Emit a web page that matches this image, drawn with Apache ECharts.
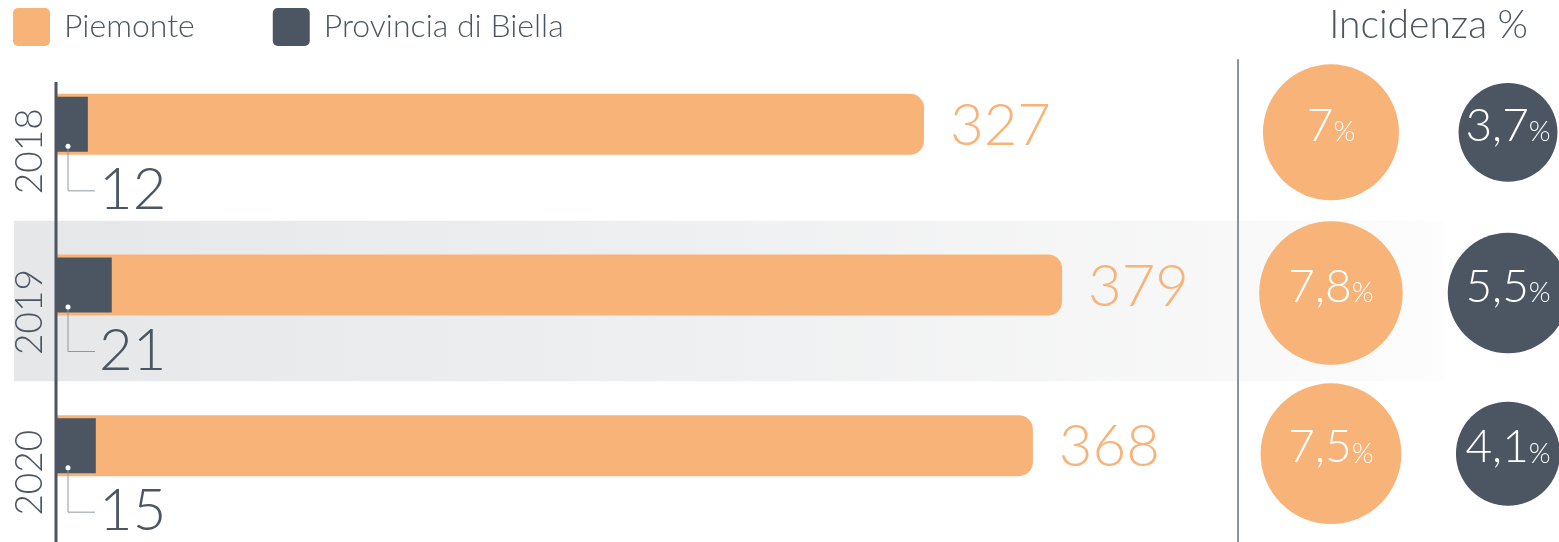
<!DOCTYPE html>
<html>
<head>
<meta charset="utf-8">
<script src="https://cdn.jsdelivr.net/npm/echarts@6/dist/echarts.min.js"></script>
<style>
  html, body { margin: 0; padding: 0; background: #fff; }
  #chart { width: 1559px; height: 542px; }
</style>
</head>
<body>
<div id="chart"></div>
<script>
// dati
const years = ['2018', '2019', '2020'];
const piemonte = [327, 379, 368];
const biella = [12, 21, 15];
const incPiemonte = [7, 7.8, 7.5];
const incBiella = [3.7, 5.5, 4.1];
const shadedYears = ['2019'];

const ORANGE = '#f8b378';
const DARK = '#4b5662';
const FONT = 'Lato';

const chart = echarts.init(document.getElementById('chart'));

// formato italiano con la virgola
function pct(v) {
  return String(v).replace('.', ',');
}

const BAR_SHIFT = -16; // barre spostate in alto nella fascia

// quadratino della legenda con angoli poco arrotondati
const LEGEND_ICON = 'path://M5,0 H32 A5,5 0 0 1 37,5 V33 A5,5 0 0 1 32,38 H5 A5,5 0 0 1 0,33 V5 A5,5 0 0 1 5,0 Z';

const option = {
  animation: false,
  title: {
    text: 'Incidenza %',
    right: 26,
    top: 1,
    textStyle: { fontFamily: FONT, fontSize: 39, fontWeight: 300, color: DARK }
  },
  legend: {
    left: 8,
    top: 3,
    icon: LEGEND_ICON,
    itemWidth: 37,
    itemHeight: 38,
    itemGap: 78,
    data: ['Piemonte', 'Provincia di Biella'],
    textStyle: { fontFamily: FONT, fontSize: 32, fontWeight: 300, color: DARK, padding: [0, 0, 0, 9] }
  },
  grid: [
    { left: 56, right: 335, top: 60, bottom: 0 },
    { left: 1238, right: 0, top: 60, bottom: 0 }
  ],
  xAxis: [
    { gridIndex: 0, type: 'value', min: 0, max: 440, show: false },
    { gridIndex: 1, type: 'value', min: -0.525, max: 1.288, show: false }
  ],
  yAxis: [
    {
      gridIndex: 0, type: 'category', data: years, inverse: true,
      axisLine: { show: false },
      axisTick: { show: false },
      axisLabel: {
        rotate: 90, margin: 7,
        fontFamily: FONT, fontWeight: 300, fontSize: 37, color: DARK,
        padding: [0, 22, 0, 0]
      }
    },
    {
      gridIndex: 1, type: 'category', data: years, inverse: true, z: 10,
      axisLine: { show: true, onZero: false, lineStyle: { color: '#8a949d', width: 2 } },
      axisTick: { show: false },
      axisLabel: { show: false }
    }
  ],
  graphic: [
    {
      type: 'line', z: 100,
      shape: { x1: 56, y1: 82, x2: 56, y2: 542 },
      style: { stroke: DARK, lineWidth: 3 }
    }
  ],
  series: [
    {
      // fascia grigia della riga evidenziata
      type: 'custom',
      z: 0,
      silent: true,
      xAxisIndex: 0, yAxisIndex: 0,
      data: shadedYears.map(y => [0, y]),
      encode: { x: 0, y: 1 },
      renderItem: function (params, api) {
        const c = api.coord([0, api.value(1)]);
        const h = api.size([0, 1])[1];
        return {
          type: 'rect',
          shape: { x: 14, y: c[1] - h / 2, width: 1430, height: h },
          style: {
            fill: new echarts.graphic.LinearGradient(0, 0, 1, 0, [
              { offset: 0, color: '#e6e7e9' },
              { offset: 0.5, color: '#eff0f1' },
              { offset: 0.85, color: '#f8f8f8' },
              { offset: 1, color: '#fdfdfd' }
            ])
          }
        };
      }
    },
    {
      name: 'Piemonte',
      type: 'custom',
      z: 3,
      xAxisIndex: 0, yAxisIndex: 0,
      itemStyle: { color: ORANGE },
      data: years.map((y, i) => [piemonte[i], y]),
      encode: { x: 0, y: 1 },
      renderItem: function (params, api) {
        const cat = api.value(1);
        const start = api.coord([0, cat]);
        const end = api.coord([api.value(0), cat]);
        const yc = start[1] + BAR_SHIFT;
        return {
          type: 'group',
          children: [
            {
              type: 'rect',
              shape: { x: start[0] - 1, y: yc - 30.5, width: end[0] - start[0] + 1, height: 61, r: [0, 14, 14, 0] },
              style: { fill: ORANGE }
            },
            {
              type: 'text',
              x: end[0] + 26, y: yc + 2,
              style: {
                text: String(api.value(0)),
                fill: ORANGE,
                font: '300 58px ' + FONT,
                align: 'left', verticalAlign: 'middle'
              }
            }
          ]
        };
      }
    },
    {
      name: 'Provincia di Biella',
      type: 'custom',
      z: 4,
      xAxisIndex: 0, yAxisIndex: 0,
      itemStyle: { color: DARK },
      data: years.map((y, i) => [biella[i], y]),
      encode: { x: 0, y: 1 },
      renderItem: function (params, api) {
        const cat = api.value(1);
        const start = api.coord([0, cat]);
        const end = api.coord([api.value(0), cat]);
        const yc = start[1] + BAR_SHIFT;
        const x0 = start[0];
        return {
          type: 'group',
          children: [
            {
              type: 'rect',
              shape: { x: x0 + 1, y: yc - 27.5, width: end[0] - x0 - 1, height: 55 },
              style: { fill: DARK }
            },
            {
              type: 'polyline',
              shape: { points: [[x0 + 12, yc + 22], [x0 + 12, yc + 66.5], [x0 + 39, yc + 66.5]] },
              style: { stroke: '#8f98a0', lineWidth: 1, fill: null }
            },
            {
              type: 'circle',
              shape: { cx: x0 + 12, cy: yc + 22, r: 2.5 },
              style: { fill: '#ffffff' }
            },
            {
              type: 'text',
              x: x0 + 43, y: yc + 66,
              style: {
                text: String(api.value(0)),
                fill: DARK,
                font: '300 58px ' + FONT,
                align: 'left', verticalAlign: 'middle'
              }
            }
          ]
        };
      }
    },
    {
      name: 'Piemonte',
      type: 'scatter',
      xAxisIndex: 1, yAxisIndex: 1,
      symbol: 'circle',
      symbolOffset: [0, -8],
      symbolSize: d => 51.4 * Math.sqrt(d[2]),
      itemStyle: { color: ORANGE, opacity: 1 },
      data: years.map((y, i) => [0, y, incPiemonte[i]]),
      label: {
        show: true, position: 'inside', offset: [0, -6],
        formatter: p => '{a|' + pct(p.value[2]) + '}{b|%}',
        rich: {
          a: { fontFamily: FONT, fontWeight: 300, fontSize: 46, color: '#fff' },
          b: { fontFamily: FONT, fontWeight: 300, fontSize: 28, color: '#fff', padding: [12, 0, 0, 0] }
        }
      }
    },
    {
      name: 'Provincia di Biella',
      type: 'scatter',
      xAxisIndex: 1, yAxisIndex: 1,
      symbol: 'circle',
      symbolOffset: [0, -8],
      symbolSize: d => 51.4 * Math.sqrt(d[2]),
      itemStyle: { color: DARK, opacity: 1 },
      data: years.map((y, i) => [1, y, incBiella[i]]),
      label: {
        show: true, position: 'inside', offset: [0, -6],
        formatter: p => '{a|' + pct(p.value[2]) + '}{b|%}',
        rich: {
          a: { fontFamily: FONT, fontWeight: 300, fontSize: 46, color: '#fff' },
          b: { fontFamily: FONT, fontWeight: 300, fontSize: 28, color: '#fff', padding: [12, 0, 0, 0] }
        }
      }
    }
  ]
};

chart.setOption(option);
window.addEventListener('resize', function () {
  chart.resize();
});
</script>
</body>
</html>
